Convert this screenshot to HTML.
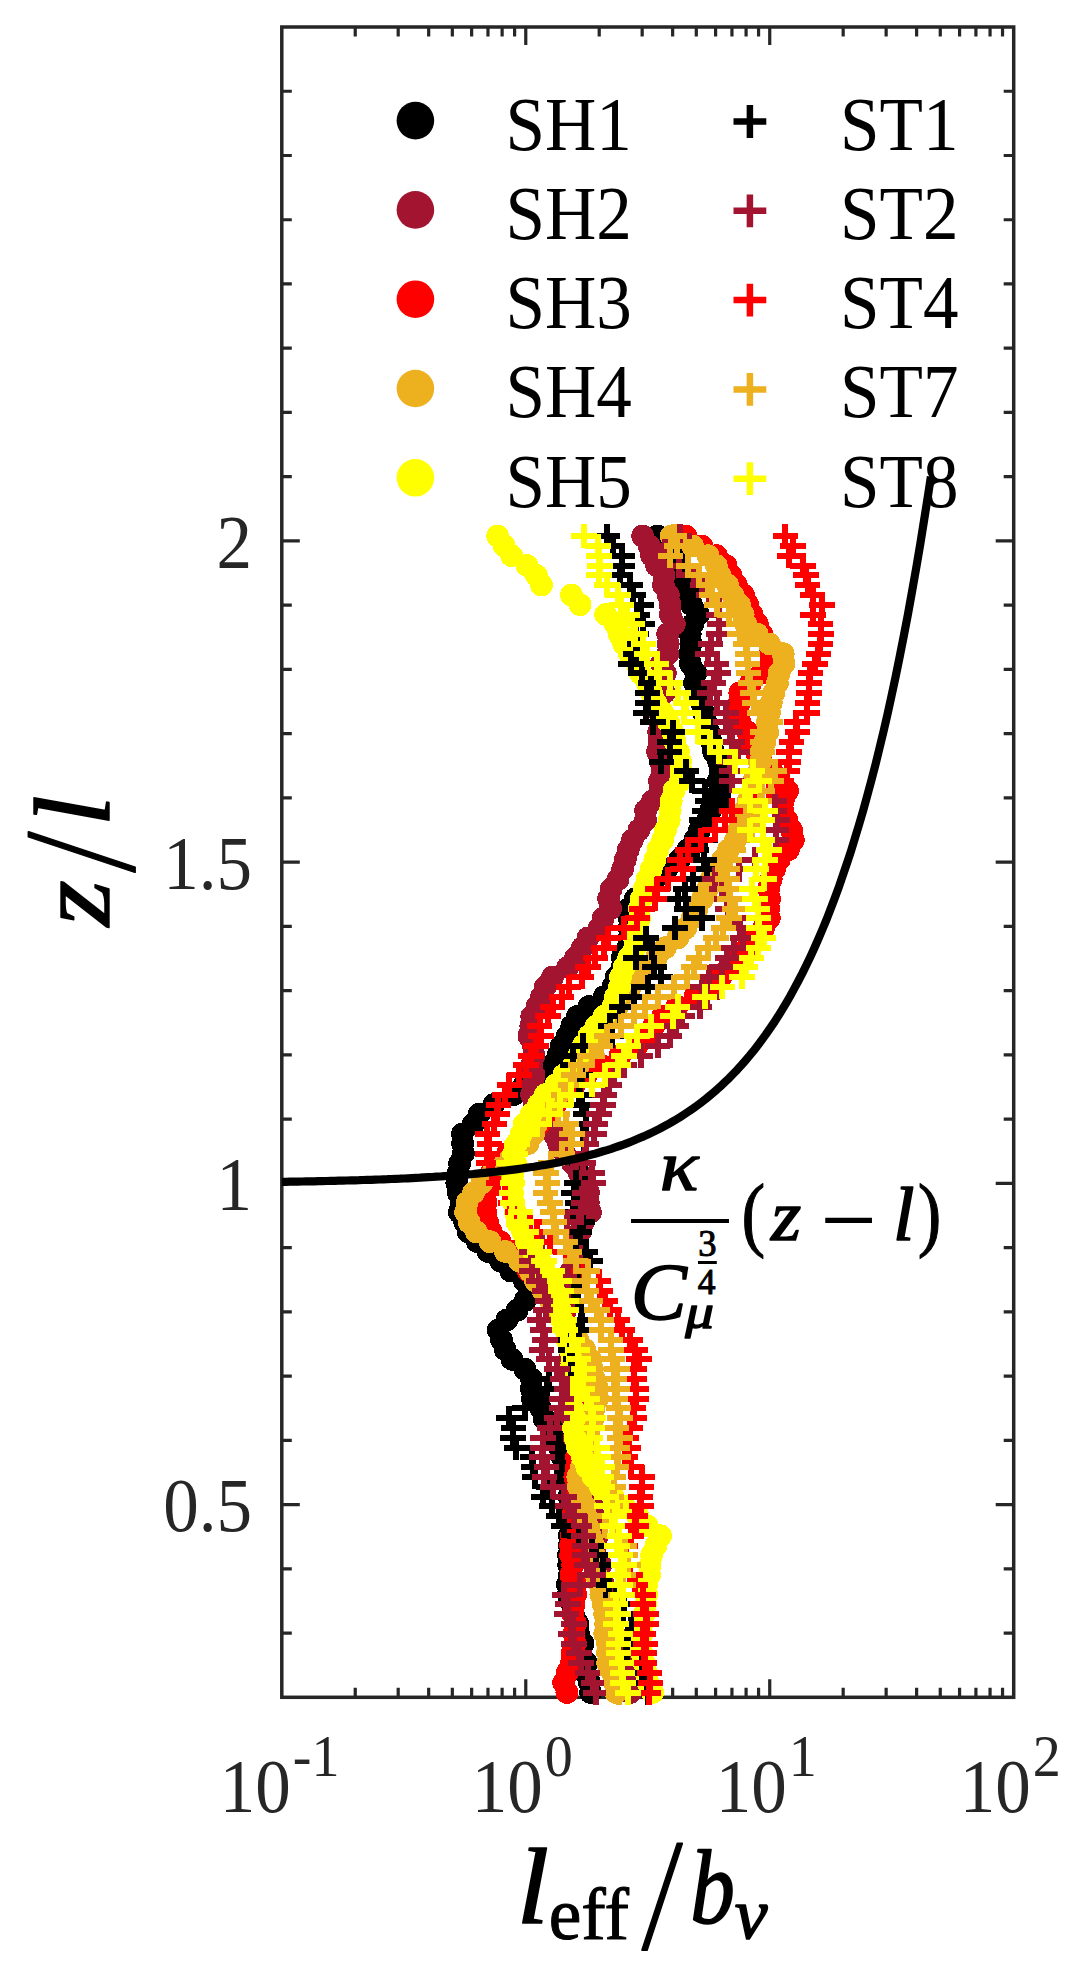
<!DOCTYPE html>
<html><head><meta charset="utf-8"><title>plot</title>
<style>html,body{margin:0;padding:0;background:#fff}svg{display:block}text{font-family:"Liberation Serif","DejaVu Serif",serif}</style></head><body>
<svg width="1085" height="1980" viewBox="0 0 1085 1980">
<rect width="1085" height="1980" fill="#fff"/>
<g stroke="#262626" fill="none" stroke-linecap="butt">
<rect x="281.8" y="27.0" width="731.90" height="1670.30" stroke-width="3.5"/>
<path d="M355.24 1697.3v-9.6M355.24 27.0v9.6M398.20 1697.3v-9.6M398.20 27.0v9.6M428.68 1697.3v-9.6M428.68 27.0v9.6M452.33 1697.3v-9.6M452.33 27.0v9.6M471.64 1697.3v-9.6M471.64 27.0v9.6M487.98 1697.3v-9.6M487.98 27.0v9.6M502.12 1697.3v-9.6M502.12 27.0v9.6M514.60 1697.3v-9.6M514.60 27.0v9.6M525.77 1697.3v-18M525.77 27.0v18M599.21 1697.3v-9.6M599.21 27.0v9.6M642.17 1697.3v-9.6M642.17 27.0v9.6M672.65 1697.3v-9.6M672.65 27.0v9.6M696.29 1697.3v-9.6M696.29 27.0v9.6M715.61 1697.3v-9.6M715.61 27.0v9.6M731.94 1697.3v-9.6M731.94 27.0v9.6M746.09 1697.3v-9.6M746.09 27.0v9.6M758.57 1697.3v-9.6M758.57 27.0v9.6M769.73 1697.3v-18M769.73 27.0v18M843.17 1697.3v-9.6M843.17 27.0v9.6M886.14 1697.3v-9.6M886.14 27.0v9.6M916.62 1697.3v-9.6M916.62 27.0v9.6M940.26 1697.3v-9.6M940.26 27.0v9.6M959.58 1697.3v-9.6M959.58 27.0v9.6M975.91 1697.3v-9.6M975.91 27.0v9.6M990.06 1697.3v-9.6M990.06 27.0v9.6M1002.54 1697.3v-9.6M1002.54 27.0v9.6" stroke-width="3.2"/>
<path d="M281.8 1633.06h10M1013.7 1633.06h-10M281.8 1568.82h10M1013.7 1568.82h-10M281.8 1504.57h18M1013.7 1504.57h-18M281.8 1440.33h10M1013.7 1440.33h-10M281.8 1376.09h10M1013.7 1376.09h-10M281.8 1311.85h10M1013.7 1311.85h-10M281.8 1247.60h10M1013.7 1247.60h-10M281.8 1183.36h18M1013.7 1183.36h-18M281.8 1119.12h10M1013.7 1119.12h-10M281.8 1054.88h10M1013.7 1054.88h-10M281.8 990.63h10M1013.7 990.63h-10M281.8 926.39h10M1013.7 926.39h-10M281.8 862.15h18M1013.7 862.15h-18M281.8 797.91h10M1013.7 797.91h-10M281.8 733.67h10M1013.7 733.67h-10M281.8 669.42h10M1013.7 669.42h-10M281.8 605.18h10M1013.7 605.18h-10M281.8 540.94h18M1013.7 540.94h-18M281.8 476.70h10M1013.7 476.70h-10M281.8 412.45h10M1013.7 412.45h-10M281.8 348.21h10M1013.7 348.21h-10M281.8 283.97h10M1013.7 283.97h-10M281.8 219.73h10M1013.7 219.73h-10M281.8 155.48h10M1013.7 155.48h-10M281.8 91.24h10M1013.7 91.24h-10" stroke-width="3.2"/>
</g>
<g fill="#262626" font-size="76px">
<text transform="translate(252.0 567.7) scale(0.935 1)" text-anchor="end">2</text>
<text transform="translate(252.0 888.9) scale(0.935 1)" text-anchor="end">1.5</text>
<text transform="translate(252.0 1210.2) scale(0.935 1)" text-anchor="end">1</text>
<text transform="translate(252.0 1531.4) scale(0.935 1)" text-anchor="end">0.5</text>
<text transform="translate(219.8 1811.8) scale(0.935 1)">10</text>
<text transform="translate(292.8 1776.0) scale(0.935 1)" font-size="60px">-1</text>
<text transform="translate(471.8 1811.8) scale(0.935 1)">10</text>
<text transform="translate(544.8 1776.0) scale(0.935 1)" font-size="60px">0</text>
<text transform="translate(715.7 1811.8) scale(0.935 1)">10</text>
<text transform="translate(788.7 1776.0) scale(0.935 1)" font-size="60px">1</text>
<text transform="translate(959.7 1811.8) scale(0.935 1)">10</text>
<text transform="translate(1032.7 1776.0) scale(0.935 1)" font-size="60px">2</text>
</g>
<g font-size="76px" fill="#000">
<circle cx="415.4" cy="120.6" r="18.8" fill="#000000"/>
<path d="M733.5 121.5h32.8M749.9 105.1v32.8" stroke="#000000" stroke-width="6.5" fill="none"/>
<text transform="translate(505.5 149.5) scale(0.935 1)">SH1</text>
<text transform="translate(840.0 149.5) scale(0.935 1)">ST1</text>
<circle cx="415.4" cy="209.9" r="18.8" fill="#A2142F"/>
<path d="M733.5 210.8h32.8M749.9 194.4v32.8" stroke="#A2142F" stroke-width="6.5" fill="none"/>
<text transform="translate(505.5 238.8) scale(0.935 1)">SH2</text>
<text transform="translate(840.0 238.8) scale(0.935 1)">ST2</text>
<circle cx="415.4" cy="299.2" r="18.8" fill="#FF0000"/>
<path d="M733.5 300.1h32.8M749.9 283.7v32.8" stroke="#FF0000" stroke-width="6.5" fill="none"/>
<text transform="translate(505.5 328.1) scale(0.935 1)">SH3</text>
<text transform="translate(840.0 328.1) scale(0.935 1)">ST4</text>
<circle cx="415.4" cy="388.5" r="18.8" fill="#EDB120"/>
<path d="M733.5 389.4h32.8M749.9 373.0v32.8" stroke="#EDB120" stroke-width="6.5" fill="none"/>
<text transform="translate(505.5 417.4) scale(0.935 1)">SH4</text>
<text transform="translate(840.0 417.4) scale(0.935 1)">ST7</text>
<circle cx="415.4" cy="477.8" r="18.8" fill="#FFFF00"/>
<path d="M733.5 478.7h32.8M749.9 462.3v32.8" stroke="#FFFF00" stroke-width="6.5" fill="none"/>
<text transform="translate(505.5 506.7) scale(0.935 1)">SH5</text>
<text transform="translate(840.0 506.7) scale(0.935 1)">ST8</text>
</g>
<g fill="#000000" shape-rendering="crispEdges"><circle cx="657.6" cy="536.1" r="11.4"/><circle cx="664.6" cy="545.9" r="11.4"/><circle cx="674.0" cy="555.7" r="11.4"/><circle cx="677.0" cy="565.5" r="11.4"/><circle cx="681.0" cy="575.3" r="11.4"/><circle cx="684.4" cy="585.1" r="11.4"/><circle cx="690.3" cy="594.9" r="11.4"/><circle cx="691.5" cy="604.7" r="11.4"/><circle cx="698.3" cy="614.5" r="11.4"/><circle cx="692.7" cy="624.3" r="11.4"/><circle cx="690.2" cy="634.1" r="11.4"/><circle cx="691.0" cy="643.9" r="11.4"/><circle cx="689.7" cy="653.7" r="11.4"/><circle cx="690.3" cy="663.5" r="11.4"/><circle cx="695.8" cy="673.3" r="11.4"/><circle cx="694.6" cy="683.1" r="11.4"/><circle cx="698.0" cy="692.9" r="11.4"/><circle cx="701.6" cy="702.7" r="11.4"/><circle cx="703.7" cy="712.5" r="11.4"/><circle cx="705.8" cy="722.3" r="11.4"/><circle cx="708.8" cy="732.1" r="11.4"/><circle cx="711.5" cy="741.9" r="11.4"/><circle cx="713.6" cy="751.7" r="11.4"/><circle cx="718.4" cy="761.5" r="11.4"/><circle cx="720.2" cy="771.3" r="11.4"/><circle cx="718.2" cy="781.1" r="11.4"/><circle cx="720.1" cy="790.9" r="11.4"/><circle cx="720.4" cy="800.7" r="11.4"/><circle cx="710.7" cy="810.5" r="11.4"/><circle cx="707.4" cy="820.3" r="11.4"/><circle cx="699.6" cy="830.1" r="11.4"/><circle cx="694.9" cy="839.9" r="11.4"/><circle cx="687.7" cy="849.7" r="11.4"/><circle cx="679.7" cy="859.5" r="11.4"/><circle cx="666.7" cy="869.3" r="11.4"/><circle cx="654.9" cy="879.1" r="11.4"/><circle cx="647.0" cy="888.9" r="11.4"/><circle cx="635.4" cy="898.7" r="11.4"/><circle cx="629.4" cy="908.5" r="11.4"/><circle cx="629.4" cy="918.3" r="11.4"/><circle cx="629.3" cy="928.1" r="11.4"/><circle cx="629.3" cy="937.9" r="11.4"/><circle cx="628.0" cy="947.7" r="11.4"/><circle cx="622.2" cy="957.5" r="11.4"/><circle cx="622.2" cy="967.3" r="11.4"/><circle cx="616.2" cy="977.1" r="11.4"/><circle cx="612.8" cy="986.9" r="11.4"/><circle cx="604.2" cy="996.7" r="11.4"/><circle cx="589.1" cy="1006.5" r="11.4"/><circle cx="577.4" cy="1016.3" r="11.4"/><circle cx="571.8" cy="1026.1" r="11.4"/><circle cx="567.3" cy="1035.9" r="11.4"/><circle cx="561.3" cy="1045.7" r="11.4"/><circle cx="558.0" cy="1055.5" r="11.4"/><circle cx="551.6" cy="1065.3" r="11.4"/><circle cx="536.7" cy="1075.1" r="11.4"/><circle cx="524.1" cy="1084.9" r="11.4"/><circle cx="513.7" cy="1094.7" r="11.4"/><circle cx="493.8" cy="1104.5" r="11.4"/><circle cx="478.9" cy="1114.3" r="11.4"/><circle cx="473.1" cy="1124.1" r="11.4"/><circle cx="462.4" cy="1133.9" r="11.4"/><circle cx="462.7" cy="1143.7" r="11.4"/><circle cx="463.4" cy="1153.5" r="11.4"/><circle cx="459.7" cy="1163.3" r="11.4"/><circle cx="458.0" cy="1173.1" r="11.4"/><circle cx="456.8" cy="1182.9" r="11.4"/><circle cx="458.3" cy="1192.7" r="11.4"/><circle cx="461.3" cy="1202.5" r="11.4"/><circle cx="459.3" cy="1212.3" r="11.4"/><circle cx="464.7" cy="1222.1" r="11.4"/><circle cx="468.2" cy="1231.9" r="11.4"/><circle cx="477.3" cy="1241.7" r="11.4"/><circle cx="488.0" cy="1251.5" r="11.4"/><circle cx="500.7" cy="1261.3" r="11.4"/><circle cx="510.7" cy="1271.1" r="11.4"/><circle cx="524.4" cy="1280.9" r="11.4"/><circle cx="529.5" cy="1290.7" r="11.4"/><circle cx="525.2" cy="1300.5" r="11.4"/><circle cx="517.0" cy="1310.3" r="11.4"/><circle cx="506.8" cy="1320.1" r="11.4"/><circle cx="498.3" cy="1329.9" r="11.4"/><circle cx="501.5" cy="1339.7" r="11.4"/><circle cx="505.2" cy="1349.5" r="11.4"/><circle cx="512.1" cy="1359.3" r="11.4"/><circle cx="524.8" cy="1369.1" r="11.4"/><circle cx="531.6" cy="1378.9" r="11.4"/><circle cx="531.3" cy="1388.7" r="11.4"/><circle cx="534.8" cy="1398.5" r="11.4"/><circle cx="540.7" cy="1408.3" r="11.4"/><circle cx="543.9" cy="1418.1" r="11.4"/><circle cx="552.7" cy="1427.9" r="11.4"/><circle cx="553.8" cy="1437.7" r="11.4"/><circle cx="559.4" cy="1447.5" r="11.4"/><circle cx="562.4" cy="1457.3" r="11.4"/><circle cx="564.4" cy="1467.1" r="11.4"/><circle cx="564.7" cy="1476.9" r="11.4"/><circle cx="570.7" cy="1486.7" r="11.4"/><circle cx="569.0" cy="1496.5" r="11.4"/><circle cx="572.7" cy="1506.3" r="11.4"/><circle cx="573.3" cy="1516.1" r="11.4"/><circle cx="572.4" cy="1525.9" r="11.4"/><circle cx="569.4" cy="1535.7" r="11.4"/><circle cx="569.4" cy="1545.5" r="11.4"/><circle cx="568.5" cy="1555.3" r="11.4"/><circle cx="568.7" cy="1565.1" r="11.4"/><circle cx="569.4" cy="1574.9" r="11.4"/><circle cx="567.4" cy="1584.7" r="11.4"/><circle cx="568.2" cy="1594.5" r="11.4"/><circle cx="572.3" cy="1604.3" r="11.4"/><circle cx="573.3" cy="1614.1" r="11.4"/><circle cx="577.9" cy="1623.9" r="11.4"/><circle cx="578.4" cy="1633.7" r="11.4"/><circle cx="583.0" cy="1643.5" r="11.4"/><circle cx="580.1" cy="1653.3" r="11.4"/><circle cx="586.6" cy="1663.1" r="11.4"/><circle cx="585.3" cy="1672.9" r="11.4"/><circle cx="589.4" cy="1682.7" r="11.4"/><circle cx="590.5" cy="1692.5" r="11.4"/></g>
<g fill="#A2142F" shape-rendering="crispEdges"><circle cx="642.7" cy="536.1" r="11.4"/><circle cx="649.1" cy="545.9" r="11.4"/><circle cx="651.7" cy="555.7" r="11.4"/><circle cx="656.6" cy="565.5" r="11.4"/><circle cx="663.9" cy="575.3" r="11.4"/><circle cx="663.4" cy="585.1" r="11.4"/><circle cx="668.3" cy="594.9" r="11.4"/><circle cx="670.0" cy="604.7" r="11.4"/><circle cx="670.3" cy="614.5" r="11.4"/><circle cx="674.3" cy="624.3" r="11.4"/><circle cx="667.7" cy="634.1" r="11.4"/><circle cx="668.2" cy="643.9" r="11.4"/><circle cx="667.8" cy="653.7" r="11.4"/><circle cx="661.4" cy="663.5" r="11.4"/><circle cx="665.3" cy="673.3" r="11.4"/><circle cx="660.9" cy="683.1" r="11.4"/><circle cx="664.1" cy="692.9" r="11.4"/><circle cx="657.9" cy="702.7" r="11.4"/><circle cx="659.3" cy="712.5" r="11.4"/><circle cx="660.8" cy="722.3" r="11.4"/><circle cx="658.7" cy="732.1" r="11.4"/><circle cx="659.0" cy="741.9" r="11.4"/><circle cx="657.6" cy="751.7" r="11.4"/><circle cx="660.6" cy="761.5" r="11.4"/><circle cx="662.4" cy="771.3" r="11.4"/><circle cx="659.5" cy="781.1" r="11.4"/><circle cx="660.1" cy="790.9" r="11.4"/><circle cx="652.6" cy="800.7" r="11.4"/><circle cx="645.6" cy="810.5" r="11.4"/><circle cx="645.5" cy="820.3" r="11.4"/><circle cx="638.9" cy="830.1" r="11.4"/><circle cx="632.4" cy="839.9" r="11.4"/><circle cx="628.3" cy="849.7" r="11.4"/><circle cx="625.3" cy="859.5" r="11.4"/><circle cx="622.6" cy="869.3" r="11.4"/><circle cx="618.1" cy="879.1" r="11.4"/><circle cx="611.2" cy="888.9" r="11.4"/><circle cx="608.6" cy="898.7" r="11.4"/><circle cx="610.7" cy="908.5" r="11.4"/><circle cx="603.1" cy="918.3" r="11.4"/><circle cx="599.2" cy="928.1" r="11.4"/><circle cx="588.0" cy="937.9" r="11.4"/><circle cx="582.3" cy="947.7" r="11.4"/><circle cx="575.7" cy="957.5" r="11.4"/><circle cx="567.7" cy="967.3" r="11.4"/><circle cx="552.6" cy="977.1" r="11.4"/><circle cx="545.2" cy="986.9" r="11.4"/><circle cx="541.6" cy="996.7" r="11.4"/><circle cx="537.0" cy="1006.5" r="11.4"/><circle cx="531.8" cy="1016.3" r="11.4"/><circle cx="530.8" cy="1026.1" r="11.4"/><circle cx="528.9" cy="1035.9" r="11.4"/><circle cx="533.5" cy="1045.7" r="11.4"/><circle cx="534.1" cy="1055.5" r="11.4"/><circle cx="531.8" cy="1065.3" r="11.4"/><circle cx="534.1" cy="1075.1" r="11.4"/><circle cx="533.0" cy="1084.9" r="11.4"/><circle cx="531.6" cy="1094.7" r="11.4"/><circle cx="534.0" cy="1104.5" r="11.4"/><circle cx="536.3" cy="1114.3" r="11.4"/><circle cx="543.2" cy="1124.1" r="11.4"/><circle cx="553.8" cy="1133.9" r="11.4"/><circle cx="558.6" cy="1143.7" r="11.4"/><circle cx="564.8" cy="1153.5" r="11.4"/><circle cx="572.5" cy="1163.3" r="11.4"/><circle cx="579.1" cy="1173.1" r="11.4"/><circle cx="585.2" cy="1182.9" r="11.4"/><circle cx="588.4" cy="1192.7" r="11.4"/><circle cx="588.3" cy="1202.5" r="11.4"/><circle cx="590.4" cy="1212.3" r="11.4"/><circle cx="583.5" cy="1222.1" r="11.4"/><circle cx="580.2" cy="1231.9" r="11.4"/><circle cx="577.5" cy="1241.7" r="11.4"/><circle cx="573.8" cy="1251.5" r="11.4"/><circle cx="575.3" cy="1261.3" r="11.4"/><circle cx="571.0" cy="1271.1" r="11.4"/><circle cx="567.9" cy="1280.9" r="11.4"/><circle cx="562.3" cy="1290.7" r="11.4"/><circle cx="565.7" cy="1300.5" r="11.4"/><circle cx="565.4" cy="1310.3" r="11.4"/><circle cx="563.7" cy="1320.1" r="11.4"/><circle cx="565.6" cy="1329.9" r="11.4"/><circle cx="568.5" cy="1339.7" r="11.4"/><circle cx="569.3" cy="1349.5" r="11.4"/><circle cx="569.7" cy="1359.3" r="11.4"/><circle cx="570.8" cy="1369.1" r="11.4"/><circle cx="572.7" cy="1378.9" r="11.4"/><circle cx="573.0" cy="1388.7" r="11.4"/><circle cx="574.0" cy="1398.5" r="11.4"/><circle cx="574.1" cy="1408.3" r="11.4"/><circle cx="571.6" cy="1418.1" r="11.4"/><circle cx="575.3" cy="1427.9" r="11.4"/><circle cx="574.2" cy="1437.7" r="11.4"/><circle cx="578.9" cy="1447.5" r="11.4"/><circle cx="581.2" cy="1457.3" r="11.4"/><circle cx="587.8" cy="1467.1" r="11.4"/><circle cx="587.0" cy="1476.9" r="11.4"/><circle cx="589.1" cy="1486.7" r="11.4"/><circle cx="590.0" cy="1496.5" r="11.4"/><circle cx="592.6" cy="1506.3" r="11.4"/><circle cx="593.9" cy="1516.1" r="11.4"/><circle cx="591.8" cy="1525.9" r="11.4"/><circle cx="597.6" cy="1535.7" r="11.4"/><circle cx="595.7" cy="1545.5" r="11.4"/><circle cx="595.4" cy="1555.3" r="11.4"/><circle cx="600.7" cy="1565.1" r="11.4"/><circle cx="597.8" cy="1574.9" r="11.4"/><circle cx="603.5" cy="1584.7" r="11.4"/><circle cx="603.3" cy="1594.5" r="11.4"/><circle cx="608.7" cy="1604.3" r="11.4"/><circle cx="606.0" cy="1614.1" r="11.4"/><circle cx="613.4" cy="1623.9" r="11.4"/><circle cx="614.2" cy="1633.7" r="11.4"/><circle cx="617.4" cy="1643.5" r="11.4"/><circle cx="618.9" cy="1653.3" r="11.4"/><circle cx="621.7" cy="1663.1" r="11.4"/><circle cx="626.0" cy="1672.9" r="11.4"/><circle cx="625.5" cy="1682.7" r="11.4"/><circle cx="630.4" cy="1692.5" r="11.4"/></g>
<g fill="#FF0000" shape-rendering="crispEdges"><circle cx="686.0" cy="536.1" r="11.4"/><circle cx="701.8" cy="545.9" r="11.4"/><circle cx="716.5" cy="555.7" r="11.4"/><circle cx="726.0" cy="565.5" r="11.4"/><circle cx="730.8" cy="575.3" r="11.4"/><circle cx="736.4" cy="585.1" r="11.4"/><circle cx="743.5" cy="594.9" r="11.4"/><circle cx="747.8" cy="604.7" r="11.4"/><circle cx="752.2" cy="614.5" r="11.4"/><circle cx="757.4" cy="624.3" r="11.4"/><circle cx="761.8" cy="634.1" r="11.4"/><circle cx="769.5" cy="643.9" r="11.4"/><circle cx="770.3" cy="653.7" r="11.4"/><circle cx="770.6" cy="663.5" r="11.4"/><circle cx="761.6" cy="673.3" r="11.4"/><circle cx="750.6" cy="683.1" r="11.4"/><circle cx="739.8" cy="692.9" r="11.4"/><circle cx="739.4" cy="702.7" r="11.4"/><circle cx="737.6" cy="712.5" r="11.4"/><circle cx="740.0" cy="722.3" r="11.4"/><circle cx="747.6" cy="732.1" r="11.4"/><circle cx="750.5" cy="741.9" r="11.4"/><circle cx="756.3" cy="751.7" r="11.4"/><circle cx="761.3" cy="761.5" r="11.4"/><circle cx="772.1" cy="771.3" r="11.4"/><circle cx="779.4" cy="781.1" r="11.4"/><circle cx="787.6" cy="790.9" r="11.4"/><circle cx="783.2" cy="800.7" r="11.4"/><circle cx="782.6" cy="810.5" r="11.4"/><circle cx="786.9" cy="820.3" r="11.4"/><circle cx="791.5" cy="830.1" r="11.4"/><circle cx="793.3" cy="839.9" r="11.4"/><circle cx="788.4" cy="849.7" r="11.4"/><circle cx="779.3" cy="859.5" r="11.4"/><circle cx="774.6" cy="869.3" r="11.4"/><circle cx="771.2" cy="879.1" r="11.4"/><circle cx="768.5" cy="888.9" r="11.4"/><circle cx="769.6" cy="898.7" r="11.4"/><circle cx="768.7" cy="908.5" r="11.4"/><circle cx="769.3" cy="918.3" r="11.4"/><circle cx="763.6" cy="928.1" r="11.4"/><circle cx="753.4" cy="937.9" r="11.4"/><circle cx="747.4" cy="947.7" r="11.4"/><circle cx="740.2" cy="957.5" r="11.4"/><circle cx="729.0" cy="967.3" r="11.4"/><circle cx="720.7" cy="977.1" r="11.4"/><circle cx="711.1" cy="986.9" r="11.4"/><circle cx="695.0" cy="996.7" r="11.4"/><circle cx="677.1" cy="1006.5" r="11.4"/><circle cx="662.7" cy="1016.3" r="11.4"/><circle cx="653.7" cy="1026.1" r="11.4"/><circle cx="645.6" cy="1035.9" r="11.4"/><circle cx="636.9" cy="1045.7" r="11.4"/><circle cx="620.0" cy="1055.5" r="11.4"/><circle cx="601.6" cy="1065.3" r="11.4"/><circle cx="586.1" cy="1075.1" r="11.4"/><circle cx="574.6" cy="1084.9" r="11.4"/><circle cx="563.4" cy="1094.7" r="11.4"/><circle cx="555.7" cy="1104.5" r="11.4"/><circle cx="545.5" cy="1114.3" r="11.4"/><circle cx="539.1" cy="1124.1" r="11.4"/><circle cx="530.2" cy="1133.9" r="11.4"/><circle cx="519.8" cy="1143.7" r="11.4"/><circle cx="507.6" cy="1153.5" r="11.4"/><circle cx="495.9" cy="1163.3" r="11.4"/><circle cx="491.0" cy="1173.1" r="11.4"/><circle cx="487.2" cy="1182.9" r="11.4"/><circle cx="483.0" cy="1192.7" r="11.4"/><circle cx="486.0" cy="1202.5" r="11.4"/><circle cx="485.6" cy="1212.3" r="11.4"/><circle cx="487.6" cy="1222.1" r="11.4"/><circle cx="491.2" cy="1231.9" r="11.4"/><circle cx="500.3" cy="1241.7" r="11.4"/><circle cx="512.0" cy="1251.5" r="11.4"/><circle cx="521.5" cy="1261.3" r="11.4"/><circle cx="528.3" cy="1271.1" r="11.4"/><circle cx="538.9" cy="1280.9" r="11.4"/><circle cx="545.1" cy="1290.7" r="11.4"/><circle cx="550.5" cy="1300.5" r="11.4"/><circle cx="558.5" cy="1310.3" r="11.4"/><circle cx="563.4" cy="1320.1" r="11.4"/><circle cx="572.7" cy="1329.9" r="11.4"/><circle cx="577.1" cy="1339.7" r="11.4"/><circle cx="581.0" cy="1349.5" r="11.4"/><circle cx="586.1" cy="1359.3" r="11.4"/><circle cx="587.5" cy="1369.1" r="11.4"/><circle cx="590.0" cy="1378.9" r="11.4"/><circle cx="589.6" cy="1388.7" r="11.4"/><circle cx="589.0" cy="1398.5" r="11.4"/><circle cx="587.8" cy="1408.3" r="11.4"/><circle cx="586.4" cy="1418.1" r="11.4"/><circle cx="586.9" cy="1427.9" r="11.4"/><circle cx="580.0" cy="1437.7" r="11.4"/><circle cx="579.8" cy="1447.5" r="11.4"/><circle cx="576.5" cy="1457.3" r="11.4"/><circle cx="576.5" cy="1467.1" r="11.4"/><circle cx="574.8" cy="1476.9" r="11.4"/><circle cx="576.1" cy="1486.7" r="11.4"/><circle cx="577.0" cy="1496.5" r="11.4"/><circle cx="575.4" cy="1506.3" r="11.4"/><circle cx="572.3" cy="1516.1" r="11.4"/><circle cx="573.6" cy="1525.9" r="11.4"/><circle cx="571.4" cy="1535.7" r="11.4"/><circle cx="570.7" cy="1545.5" r="11.4"/><circle cx="570.7" cy="1555.3" r="11.4"/><circle cx="572.7" cy="1565.1" r="11.4"/><circle cx="570.9" cy="1574.9" r="11.4"/><circle cx="575.4" cy="1584.7" r="11.4"/><circle cx="575.8" cy="1594.5" r="11.4"/><circle cx="574.1" cy="1604.3" r="11.4"/><circle cx="573.0" cy="1614.1" r="11.4"/><circle cx="575.6" cy="1623.9" r="11.4"/><circle cx="573.9" cy="1633.7" r="11.4"/><circle cx="574.9" cy="1643.5" r="11.4"/><circle cx="572.0" cy="1653.3" r="11.4"/><circle cx="571.5" cy="1663.1" r="11.4"/><circle cx="567.1" cy="1672.9" r="11.4"/><circle cx="563.7" cy="1682.7" r="11.4"/><circle cx="566.9" cy="1692.5" r="11.4"/></g>
<g fill="#EDB120" shape-rendering="crispEdges"><circle cx="671.2" cy="536.1" r="11.4"/><circle cx="692.6" cy="545.9" r="11.4"/><circle cx="708.2" cy="555.7" r="11.4"/><circle cx="716.3" cy="565.5" r="11.4"/><circle cx="720.0" cy="575.3" r="11.4"/><circle cx="727.7" cy="585.1" r="11.4"/><circle cx="732.7" cy="594.9" r="11.4"/><circle cx="739.6" cy="604.7" r="11.4"/><circle cx="743.2" cy="614.5" r="11.4"/><circle cx="746.0" cy="624.3" r="11.4"/><circle cx="757.1" cy="634.1" r="11.4"/><circle cx="769.4" cy="643.9" r="11.4"/><circle cx="783.2" cy="653.7" r="11.4"/><circle cx="784.0" cy="663.5" r="11.4"/><circle cx="779.2" cy="673.3" r="11.4"/><circle cx="777.4" cy="683.1" r="11.4"/><circle cx="773.9" cy="692.9" r="11.4"/><circle cx="771.3" cy="702.7" r="11.4"/><circle cx="769.5" cy="712.5" r="11.4"/><circle cx="767.3" cy="722.3" r="11.4"/><circle cx="767.7" cy="732.1" r="11.4"/><circle cx="764.9" cy="741.9" r="11.4"/><circle cx="761.3" cy="751.7" r="11.4"/><circle cx="760.7" cy="761.5" r="11.4"/><circle cx="758.9" cy="771.3" r="11.4"/><circle cx="753.7" cy="781.1" r="11.4"/><circle cx="752.9" cy="790.9" r="11.4"/><circle cx="748.2" cy="800.7" r="11.4"/><circle cx="745.2" cy="810.5" r="11.4"/><circle cx="741.8" cy="820.3" r="11.4"/><circle cx="738.6" cy="830.1" r="11.4"/><circle cx="735.6" cy="839.9" r="11.4"/><circle cx="728.6" cy="849.7" r="11.4"/><circle cx="722.7" cy="859.5" r="11.4"/><circle cx="718.4" cy="869.3" r="11.4"/><circle cx="711.0" cy="879.1" r="11.4"/><circle cx="707.6" cy="888.9" r="11.4"/><circle cx="702.6" cy="898.7" r="11.4"/><circle cx="696.9" cy="908.5" r="11.4"/><circle cx="691.9" cy="918.3" r="11.4"/><circle cx="685.9" cy="928.1" r="11.4"/><circle cx="677.9" cy="937.9" r="11.4"/><circle cx="665.4" cy="947.7" r="11.4"/><circle cx="656.5" cy="957.5" r="11.4"/><circle cx="646.4" cy="967.3" r="11.4"/><circle cx="640.0" cy="977.1" r="11.4"/><circle cx="630.5" cy="986.9" r="11.4"/><circle cx="621.4" cy="996.7" r="11.4"/><circle cx="617.3" cy="1006.5" r="11.4"/><circle cx="607.2" cy="1016.3" r="11.4"/><circle cx="601.7" cy="1026.1" r="11.4"/><circle cx="596.7" cy="1035.9" r="11.4"/><circle cx="588.9" cy="1045.7" r="11.4"/><circle cx="584.2" cy="1055.5" r="11.4"/><circle cx="578.4" cy="1065.3" r="11.4"/><circle cx="570.1" cy="1075.1" r="11.4"/><circle cx="563.4" cy="1084.9" r="11.4"/><circle cx="558.0" cy="1094.7" r="11.4"/><circle cx="549.0" cy="1104.5" r="11.4"/><circle cx="541.3" cy="1114.3" r="11.4"/><circle cx="536.6" cy="1124.1" r="11.4"/><circle cx="533.7" cy="1133.9" r="11.4"/><circle cx="527.8" cy="1143.7" r="11.4"/><circle cx="514.8" cy="1153.5" r="11.4"/><circle cx="504.9" cy="1163.3" r="11.4"/><circle cx="492.7" cy="1173.1" r="11.4"/><circle cx="482.0" cy="1182.9" r="11.4"/><circle cx="473.6" cy="1192.7" r="11.4"/><circle cx="467.2" cy="1202.5" r="11.4"/><circle cx="465.7" cy="1212.3" r="11.4"/><circle cx="469.1" cy="1222.1" r="11.4"/><circle cx="476.4" cy="1231.9" r="11.4"/><circle cx="489.9" cy="1241.7" r="11.4"/><circle cx="505.4" cy="1251.5" r="11.4"/><circle cx="519.6" cy="1261.3" r="11.4"/><circle cx="530.1" cy="1271.1" r="11.4"/><circle cx="535.6" cy="1280.9" r="11.4"/><circle cx="543.0" cy="1290.7" r="11.4"/><circle cx="550.6" cy="1300.5" r="11.4"/><circle cx="556.8" cy="1310.3" r="11.4"/><circle cx="562.0" cy="1320.1" r="11.4"/><circle cx="571.4" cy="1329.9" r="11.4"/><circle cx="577.8" cy="1339.7" r="11.4"/><circle cx="584.6" cy="1349.5" r="11.4"/><circle cx="590.2" cy="1359.3" r="11.4"/><circle cx="592.3" cy="1369.1" r="11.4"/><circle cx="594.1" cy="1378.9" r="11.4"/><circle cx="597.5" cy="1388.7" r="11.4"/><circle cx="597.7" cy="1398.5" r="11.4"/><circle cx="594.0" cy="1408.3" r="11.4"/><circle cx="593.3" cy="1418.1" r="11.4"/><circle cx="589.1" cy="1427.9" r="11.4"/><circle cx="589.6" cy="1437.7" r="11.4"/><circle cx="583.6" cy="1447.5" r="11.4"/><circle cx="583.2" cy="1457.3" r="11.4"/><circle cx="581.4" cy="1467.1" r="11.4"/><circle cx="577.8" cy="1476.9" r="11.4"/><circle cx="578.4" cy="1486.7" r="11.4"/><circle cx="580.5" cy="1496.5" r="11.4"/><circle cx="585.0" cy="1506.3" r="11.4"/><circle cx="585.9" cy="1516.1" r="11.4"/><circle cx="587.2" cy="1525.9" r="11.4"/><circle cx="590.3" cy="1535.7" r="11.4"/><circle cx="593.6" cy="1545.5" r="11.4"/><circle cx="594.6" cy="1555.3" r="11.4"/><circle cx="595.1" cy="1565.1" r="11.4"/><circle cx="596.1" cy="1574.9" r="11.4"/><circle cx="599.9" cy="1584.7" r="11.4"/><circle cx="600.9" cy="1594.5" r="11.4"/><circle cx="603.3" cy="1604.3" r="11.4"/><circle cx="604.7" cy="1614.1" r="11.4"/><circle cx="605.7" cy="1623.9" r="11.4"/><circle cx="604.8" cy="1633.7" r="11.4"/><circle cx="607.6" cy="1643.5" r="11.4"/><circle cx="608.2" cy="1653.3" r="11.4"/><circle cx="607.7" cy="1663.1" r="11.4"/><circle cx="612.8" cy="1672.9" r="11.4"/><circle cx="614.4" cy="1682.7" r="11.4"/><circle cx="616.0" cy="1692.5" r="11.4"/></g>
<g fill="#FFFF00" shape-rendering="crispEdges"><circle cx="497.7" cy="536.1" r="11.4"/><circle cx="504.1" cy="545.9" r="11.4"/><circle cx="511.6" cy="555.7" r="11.4"/><circle cx="527.0" cy="565.5" r="11.4"/><circle cx="536.3" cy="575.3" r="11.4"/><circle cx="541.5" cy="585.1" r="11.4"/><circle cx="571.4" cy="594.9" r="11.4"/><circle cx="580.1" cy="604.7" r="11.4"/><circle cx="605.7" cy="614.5" r="11.4"/><circle cx="615.4" cy="624.3" r="11.4"/><circle cx="619.1" cy="634.1" r="11.4"/><circle cx="623.7" cy="643.9" r="11.4"/><circle cx="629.4" cy="653.7" r="11.4"/><circle cx="637.2" cy="663.5" r="11.4"/><circle cx="640.4" cy="673.3" r="11.4"/><circle cx="647.4" cy="683.1" r="11.4"/><circle cx="651.6" cy="692.9" r="11.4"/><circle cx="655.7" cy="702.7" r="11.4"/><circle cx="662.8" cy="712.5" r="11.4"/><circle cx="668.5" cy="722.3" r="11.4"/><circle cx="672.7" cy="732.1" r="11.4"/><circle cx="675.1" cy="741.9" r="11.4"/><circle cx="678.4" cy="751.7" r="11.4"/><circle cx="680.5" cy="761.5" r="11.4"/><circle cx="681.2" cy="771.3" r="11.4"/><circle cx="680.4" cy="781.1" r="11.4"/><circle cx="673.9" cy="790.9" r="11.4"/><circle cx="671.2" cy="800.7" r="11.4"/><circle cx="670.2" cy="810.5" r="11.4"/><circle cx="669.2" cy="820.3" r="11.4"/><circle cx="665.5" cy="830.1" r="11.4"/><circle cx="662.7" cy="839.9" r="11.4"/><circle cx="658.1" cy="849.7" r="11.4"/><circle cx="654.9" cy="859.5" r="11.4"/><circle cx="651.2" cy="869.3" r="11.4"/><circle cx="647.3" cy="879.1" r="11.4"/><circle cx="644.1" cy="888.9" r="11.4"/><circle cx="641.4" cy="898.7" r="11.4"/><circle cx="639.3" cy="908.5" r="11.4"/><circle cx="639.4" cy="918.3" r="11.4"/><circle cx="638.0" cy="928.1" r="11.4"/><circle cx="634.5" cy="937.9" r="11.4"/><circle cx="634.8" cy="947.7" r="11.4"/><circle cx="628.8" cy="957.5" r="11.4"/><circle cx="624.1" cy="967.3" r="11.4"/><circle cx="620.6" cy="977.1" r="11.4"/><circle cx="619.6" cy="986.9" r="11.4"/><circle cx="615.6" cy="996.7" r="11.4"/><circle cx="612.8" cy="1006.5" r="11.4"/><circle cx="603.9" cy="1016.3" r="11.4"/><circle cx="596.1" cy="1026.1" r="11.4"/><circle cx="589.0" cy="1035.9" r="11.4"/><circle cx="583.2" cy="1045.7" r="11.4"/><circle cx="578.8" cy="1055.5" r="11.4"/><circle cx="573.6" cy="1065.3" r="11.4"/><circle cx="563.8" cy="1075.1" r="11.4"/><circle cx="555.7" cy="1084.9" r="11.4"/><circle cx="545.3" cy="1094.7" r="11.4"/><circle cx="538.6" cy="1104.5" r="11.4"/><circle cx="531.0" cy="1114.3" r="11.4"/><circle cx="524.3" cy="1124.1" r="11.4"/><circle cx="521.3" cy="1133.9" r="11.4"/><circle cx="516.3" cy="1143.7" r="11.4"/><circle cx="514.0" cy="1153.5" r="11.4"/><circle cx="515.6" cy="1163.3" r="11.4"/><circle cx="513.0" cy="1173.1" r="11.4"/><circle cx="512.9" cy="1182.9" r="11.4"/><circle cx="512.5" cy="1192.7" r="11.4"/><circle cx="513.7" cy="1202.5" r="11.4"/><circle cx="515.6" cy="1212.3" r="11.4"/><circle cx="517.0" cy="1222.1" r="11.4"/><circle cx="522.7" cy="1231.9" r="11.4"/><circle cx="526.5" cy="1241.7" r="11.4"/><circle cx="533.3" cy="1251.5" r="11.4"/><circle cx="540.4" cy="1261.3" r="11.4"/><circle cx="544.3" cy="1271.1" r="11.4"/><circle cx="548.8" cy="1280.9" r="11.4"/><circle cx="553.7" cy="1290.7" r="11.4"/><circle cx="557.0" cy="1300.5" r="11.4"/><circle cx="560.3" cy="1310.3" r="11.4"/><circle cx="562.0" cy="1320.1" r="11.4"/><circle cx="565.5" cy="1329.9" r="11.4"/><circle cx="567.0" cy="1339.7" r="11.4"/><circle cx="569.8" cy="1349.5" r="11.4"/><circle cx="571.3" cy="1359.3" r="11.4"/><circle cx="570.6" cy="1369.1" r="11.4"/><circle cx="572.1" cy="1378.9" r="11.4"/><circle cx="572.6" cy="1388.7" r="11.4"/><circle cx="571.5" cy="1398.5" r="11.4"/><circle cx="572.2" cy="1408.3" r="11.4"/><circle cx="574.8" cy="1418.1" r="11.4"/><circle cx="573.6" cy="1427.9" r="11.4"/><circle cx="574.9" cy="1437.7" r="11.4"/><circle cx="577.7" cy="1447.5" r="11.4"/><circle cx="582.5" cy="1457.3" r="11.4"/><circle cx="586.8" cy="1467.1" r="11.4"/><circle cx="593.3" cy="1476.9" r="11.4"/><circle cx="600.4" cy="1486.7" r="11.4"/><circle cx="613.0" cy="1496.5" r="11.4"/><circle cx="624.2" cy="1506.3" r="11.4"/><circle cx="638.0" cy="1516.1" r="11.4"/><circle cx="647.3" cy="1525.9" r="11.4"/><circle cx="660.5" cy="1535.7" r="11.4"/><circle cx="655.9" cy="1545.5" r="11.4"/><circle cx="651.6" cy="1555.3" r="11.4"/><circle cx="650.1" cy="1565.1" r="11.4"/><circle cx="649.5" cy="1574.9" r="11.4"/><circle cx="646.6" cy="1584.7" r="11.4"/><circle cx="646.6" cy="1594.5" r="11.4"/><circle cx="645.5" cy="1604.3" r="11.4"/><circle cx="644.0" cy="1614.1" r="11.4"/><circle cx="642.0" cy="1623.9" r="11.4"/><circle cx="641.8" cy="1633.7" r="11.4"/><circle cx="639.2" cy="1643.5" r="11.4"/><circle cx="642.0" cy="1653.3" r="11.4"/><circle cx="644.2" cy="1663.1" r="11.4"/><circle cx="646.2" cy="1672.9" r="11.4"/><circle cx="648.2" cy="1682.7" r="11.4"/><circle cx="652.6" cy="1692.5" r="11.4"/></g>
<path d="M594.7 536.1h25.4M607.4 523.8v24.6M599.9 545.9h25.4M612.6 533.6v24.6M609.5 555.7h25.4M622.2 543.4v24.6M609.7 565.5h25.4M622.4 553.2v24.6M607.1 575.3h25.4M619.8 563.0v24.6M617.2 585.1h25.4M629.9 572.8v24.6M620.5 594.9h25.4M633.2 582.6v24.6M628.7 604.7h25.4M641.4 592.4v24.6M624.7 614.5h25.4M637.4 602.2v24.6M629.9 624.3h25.4M642.6 612.0v24.6M623.6 634.1h25.4M636.3 621.8v24.6M627.4 643.9h25.4M640.1 631.6v24.6M622.9 653.7h25.4M635.6 641.4v24.6M617.8 663.5h25.4M630.5 651.2v24.6M628.9 673.3h25.4M641.6 661.0v24.6M638.0 683.1h25.4M650.7 670.8v24.6M634.7 692.9h25.4M647.4 680.6v24.6M634.8 702.7h25.4M647.5 690.4v24.6M633.4 712.5h25.4M646.1 700.2v24.6M640.3 722.3h25.4M653.0 710.0v24.6M660.7 732.1h25.4M673.4 719.8v24.6M656.9 741.9h25.4M669.6 729.6v24.6M656.9 751.7h25.4M669.6 739.4v24.6M648.5 761.5h25.4M661.2 749.2v24.6M673.5 771.3h25.4M686.2 759.0v24.6M679.4 781.1h25.4M692.1 768.8v24.6M692.2 790.9h25.4M704.9 778.6v24.6M694.5 800.7h25.4M707.2 788.4v24.6M692.2 810.5h25.4M704.9 798.2v24.6M688.7 820.3h25.4M701.4 808.0v24.6M690.8 830.1h25.4M703.5 817.8v24.6M692.7 839.9h25.4M705.4 827.6v24.6M683.9 849.7h25.4M696.6 837.4v24.6M691.3 859.5h25.4M704.0 847.2v24.6M694.3 869.3h25.4M707.0 857.0v24.6M680.6 879.1h25.4M693.3 866.8v24.6M672.5 888.9h25.4M685.2 876.6v24.6M665.7 898.7h25.4M678.4 886.4v24.6M673.7 908.5h25.4M686.4 896.2v24.6M689.2 918.3h25.4M701.9 906.0v24.6M662.2 928.1h25.4M674.9 915.8v24.6M633.3 937.9h25.4M646.0 925.6v24.6M639.4 947.7h25.4M652.1 935.4v24.6M623.0 957.5h25.4M635.7 945.2v24.6M641.7 967.3h25.4M654.4 955.0v24.6M648.0 977.1h25.4M660.7 964.8v24.6M635.1 986.9h25.4M647.8 974.6v24.6M620.9 996.7h25.4M633.6 984.4v24.6M609.2 1006.5h25.4M621.9 994.2v24.6M607.0 1016.3h25.4M619.7 1004.0v24.6M597.7 1026.1h25.4M610.4 1013.8v24.6M599.7 1035.9h25.4M612.4 1023.6v24.6M569.9 1045.7h25.4M582.6 1033.4v24.6M559.9 1055.5h25.4M572.6 1043.2v24.6M560.1 1065.3h25.4M572.8 1053.0v24.6M569.6 1075.1h25.4M582.3 1062.8v24.6M567.5 1084.9h25.4M580.2 1072.6v24.6M566.4 1094.7h25.4M579.1 1082.4v24.6M568.9 1104.5h25.4M581.6 1092.2v24.6M572.8 1114.3h25.4M585.5 1102.0v24.6M572.9 1124.1h25.4M585.6 1111.8v24.6M569.9 1133.9h25.4M582.6 1121.6v24.6M572.5 1143.7h25.4M585.2 1131.4v24.6M571.5 1153.5h25.4M584.2 1141.2v24.6M569.0 1163.3h25.4M581.7 1151.0v24.6M572.5 1173.1h25.4M585.2 1160.8v24.6M563.7 1182.9h25.4M576.4 1170.6v24.6M561.2 1192.7h25.4M573.9 1180.4v24.6M565.4 1202.5h25.4M578.1 1190.2v24.6M560.5 1212.3h25.4M573.2 1200.0v24.6M570.0 1222.1h25.4M582.7 1209.8v24.6M566.9 1231.9h25.4M579.6 1219.6v24.6M563.7 1241.7h25.4M576.4 1229.4v24.6M573.0 1251.5h25.4M585.7 1239.2v24.6M577.1 1261.3h25.4M589.8 1249.0v24.6M573.2 1271.1h25.4M585.9 1258.8v24.6M566.9 1280.9h25.4M579.6 1268.6v24.6M561.0 1290.7h25.4M573.7 1278.4v24.6M565.2 1300.5h25.4M577.9 1288.2v24.6M568.1 1310.3h25.4M580.8 1298.0v24.6M568.8 1320.1h25.4M581.5 1307.8v24.6M566.4 1329.9h25.4M579.1 1317.6v24.6M556.9 1339.7h25.4M569.6 1327.4v24.6M557.6 1349.5h25.4M570.3 1337.2v24.6M563.0 1359.3h25.4M575.7 1347.0v24.6M558.7 1369.1h25.4M571.4 1356.8v24.6M536.4 1378.9h25.4M549.1 1366.6v24.6M534.2 1388.7h25.4M546.9 1376.4v24.6M521.0 1398.5h25.4M533.7 1386.2v24.6M511.9 1408.3h25.4M524.6 1396.0v24.6M496.3 1418.1h25.4M509.0 1405.8v24.6M500.7 1427.9h25.4M513.4 1415.6v24.6M500.3 1437.7h25.4M513.0 1425.4v24.6M503.7 1447.5h25.4M516.4 1435.2v24.6M519.6 1457.3h25.4M532.3 1445.0v24.6M520.5 1467.1h25.4M533.2 1454.8v24.6M521.9 1476.9h25.4M534.6 1464.6v24.6M535.6 1486.7h25.4M548.3 1474.4v24.6M530.5 1496.5h25.4M543.2 1484.2v24.6M539.3 1506.3h25.4M552.0 1494.0v24.6M546.3 1516.1h25.4M559.0 1503.8v24.6M550.8 1525.9h25.4M563.5 1513.6v24.6M566.5 1535.7h25.4M579.2 1523.4v24.6M579.6 1545.5h25.4M592.3 1533.2v24.6M582.8 1555.3h25.4M595.5 1543.0v24.6M590.7 1565.1h25.4M603.4 1552.8v24.6M590.1 1574.9h25.4M602.8 1562.6v24.6M596.1 1584.7h25.4M608.8 1572.4v24.6M602.8 1594.5h25.4M615.5 1582.2v24.6M611.6 1604.3h25.4M624.3 1592.0v24.6M610.5 1614.1h25.4M623.2 1601.8v24.6M618.0 1623.9h25.4M630.7 1611.6v24.6M615.6 1633.7h25.4M628.3 1621.4v24.6M612.8 1643.5h25.4M625.5 1631.2v24.6M613.9 1653.3h25.4M626.6 1641.0v24.6M629.1 1663.1h25.4M641.8 1650.8v24.6M629.1 1672.9h25.4M641.8 1660.6v24.6M634.7 1682.7h25.4M647.4 1670.4v24.6M634.8 1692.5h25.4M647.5 1680.2v24.6" stroke="#000000" stroke-width="6" fill="none" shape-rendering="crispEdges"/>
<path d="M666.8 536.1h25.4M679.5 523.8v24.6M652.7 545.9h25.4M665.4 533.6v24.6M647.0 555.7h25.4M659.7 543.4v24.6M665.8 565.5h25.4M678.5 553.2v24.6M681.7 575.3h25.4M694.4 563.0v24.6M689.7 585.1h25.4M702.4 572.8v24.6M696.2 594.9h25.4M708.9 582.6v24.6M706.0 604.7h25.4M718.7 592.4v24.6M706.2 614.5h25.4M718.9 602.2v24.6M706.7 624.3h25.4M719.4 612.0v24.6M705.9 634.1h25.4M718.6 621.8v24.6M697.8 643.9h25.4M710.5 631.6v24.6M695.0 653.7h25.4M707.7 641.4v24.6M703.9 663.5h25.4M716.6 651.2v24.6M705.8 673.3h25.4M718.5 661.0v24.6M700.8 683.1h25.4M713.5 670.8v24.6M696.8 692.9h25.4M709.5 680.6v24.6M704.5 702.7h25.4M717.2 690.4v24.6M713.4 712.5h25.4M726.1 700.2v24.6M713.1 722.3h25.4M725.8 710.0v24.6M717.6 732.1h25.4M730.3 719.8v24.6M719.2 741.9h25.4M731.9 729.6v24.6M725.7 751.7h25.4M738.4 739.4v24.6M717.0 761.5h25.4M729.7 749.2v24.6M718.9 771.3h25.4M731.6 759.0v24.6M718.8 781.1h25.4M731.5 768.8v24.6M746.1 790.9h25.4M758.8 778.6v24.6M761.9 800.7h25.4M774.6 788.4v24.6M762.0 810.5h25.4M774.7 798.2v24.6M764.7 820.3h25.4M777.4 808.0v24.6M763.2 830.1h25.4M775.9 817.8v24.6M763.4 839.9h25.4M776.1 827.6v24.6M755.5 849.7h25.4M768.2 837.4v24.6M742.0 859.5h25.4M754.7 847.2v24.6M726.0 869.3h25.4M738.7 857.0v24.6M702.3 879.1h25.4M715.0 866.8v24.6M708.9 888.9h25.4M721.6 876.6v24.6M714.2 898.7h25.4M726.9 886.4v24.6M715.0 908.5h25.4M727.7 896.2v24.6M721.3 918.3h25.4M734.0 906.0v24.6M727.4 928.1h25.4M740.1 915.8v24.6M730.2 937.9h25.4M742.9 925.6v24.6M721.3 947.7h25.4M734.0 935.4v24.6M714.5 957.5h25.4M727.2 945.2v24.6M709.3 967.3h25.4M722.0 955.0v24.6M695.9 977.1h25.4M708.6 964.8v24.6M689.1 986.9h25.4M701.8 974.6v24.6M694.4 996.7h25.4M707.1 984.4v24.6M687.0 1006.5h25.4M699.7 994.2v24.6M669.7 1016.3h25.4M682.4 1004.0v24.6M663.3 1026.1h25.4M676.0 1013.8v24.6M656.9 1035.9h25.4M669.6 1023.6v24.6M644.9 1045.7h25.4M657.6 1033.4v24.6M627.8 1055.5h25.4M640.5 1043.2v24.6M611.2 1065.3h25.4M623.9 1053.0v24.6M601.3 1075.1h25.4M614.0 1062.8v24.6M596.3 1084.9h25.4M609.0 1072.6v24.6M591.6 1094.7h25.4M604.3 1082.4v24.6M590.2 1104.5h25.4M602.9 1092.2v24.6M586.3 1114.3h25.4M599.0 1102.0v24.6M582.5 1124.1h25.4M595.2 1111.8v24.6M581.2 1133.9h25.4M593.9 1121.6v24.6M573.5 1143.7h25.4M586.2 1131.4v24.6M572.3 1153.5h25.4M585.0 1141.2v24.6M570.4 1163.3h25.4M583.1 1151.0v24.6M579.2 1173.1h25.4M591.9 1160.8v24.6M580.7 1182.9h25.4M593.4 1170.6v24.6M572.2 1192.7h25.4M584.9 1180.4v24.6M570.6 1202.5h25.4M583.3 1190.2v24.6M568.0 1212.3h25.4M580.7 1200.0v24.6M553.9 1222.1h25.4M566.6 1209.8v24.6M541.2 1231.9h25.4M553.9 1219.6v24.6M529.0 1241.7h25.4M541.7 1229.4v24.6M518.6 1251.5h25.4M531.3 1239.2v24.6M519.0 1261.3h25.4M531.7 1249.0v24.6M519.2 1271.1h25.4M531.9 1258.8v24.6M525.8 1280.9h25.4M538.5 1268.6v24.6M532.4 1290.7h25.4M545.1 1278.4v24.6M535.1 1300.5h25.4M547.8 1288.2v24.6M532.8 1310.3h25.4M545.5 1298.0v24.6M526.6 1320.1h25.4M539.3 1307.8v24.6M530.3 1329.9h25.4M543.0 1317.6v24.6M532.3 1339.7h25.4M545.0 1327.4v24.6M528.8 1349.5h25.4M541.5 1337.2v24.6M535.9 1359.3h25.4M548.6 1347.0v24.6M544.2 1369.1h25.4M556.9 1356.8v24.6M549.7 1378.9h25.4M562.4 1366.6v24.6M553.8 1388.7h25.4M566.5 1376.4v24.6M549.0 1398.5h25.4M561.7 1386.2v24.6M548.5 1408.3h25.4M561.2 1396.0v24.6M544.3 1418.1h25.4M557.0 1405.8v24.6M536.9 1427.9h25.4M549.6 1415.6v24.6M530.4 1437.7h25.4M543.1 1425.4v24.6M530.0 1447.5h25.4M542.7 1435.2v24.6M529.3 1457.3h25.4M542.0 1445.0v24.6M534.0 1467.1h25.4M546.7 1454.8v24.6M531.6 1476.9h25.4M544.3 1464.6v24.6M540.4 1486.7h25.4M553.1 1474.4v24.6M551.6 1496.5h25.4M564.3 1484.2v24.6M555.3 1506.3h25.4M568.0 1494.0v24.6M561.5 1516.1h25.4M574.2 1503.8v24.6M572.4 1525.9h25.4M585.1 1513.6v24.6M570.9 1535.7h25.4M583.6 1523.4v24.6M572.2 1545.5h25.4M584.9 1533.2v24.6M571.6 1555.3h25.4M584.3 1543.0v24.6M573.8 1565.1h25.4M586.5 1552.8v24.6M580.4 1574.9h25.4M593.1 1562.6v24.6M567.1 1584.7h25.4M579.8 1572.4v24.6M551.5 1594.5h25.4M564.2 1582.2v24.6M555.1 1604.3h25.4M567.8 1592.0v24.6M553.8 1614.1h25.4M566.5 1601.8v24.6M560.5 1623.9h25.4M573.2 1611.6v24.6M558.3 1633.7h25.4M571.0 1621.4v24.6M561.1 1643.5h25.4M573.8 1631.2v24.6M566.1 1653.3h25.4M578.8 1641.0v24.6M568.1 1663.1h25.4M580.8 1650.8v24.6M575.4 1672.9h25.4M588.1 1660.6v24.6M580.5 1682.7h25.4M593.2 1670.4v24.6M583.4 1692.5h25.4M596.1 1680.2v24.6" stroke="#A2142F" stroke-width="6" fill="none" shape-rendering="crispEdges"/>
<path d="M772.6 536.1h25.4M785.3 523.8v24.6M780.2 545.9h25.4M792.9 533.6v24.6M776.6 555.7h25.4M789.3 543.4v24.6M790.1 565.5h25.4M802.8 553.2v24.6M793.4 575.3h25.4M806.1 563.0v24.6M795.0 585.1h25.4M807.7 572.8v24.6M799.8 594.9h25.4M812.5 582.6v24.6M809.4 604.7h25.4M822.1 592.4v24.6M800.3 614.5h25.4M813.0 602.2v24.6M807.9 624.3h25.4M820.6 612.0v24.6M808.3 634.1h25.4M821.0 621.8v24.6M807.7 643.9h25.4M820.4 631.6v24.6M805.6 653.7h25.4M818.3 641.4v24.6M802.2 663.5h25.4M814.9 651.2v24.6M797.6 673.3h25.4M810.3 661.0v24.6M796.1 683.1h25.4M808.8 670.8v24.6M796.1 692.9h25.4M808.8 680.6v24.6M794.6 702.7h25.4M807.3 690.4v24.6M794.1 712.5h25.4M806.8 700.2v24.6M783.7 722.3h25.4M796.4 710.0v24.6M784.6 732.1h25.4M797.3 719.8v24.6M778.5 741.9h25.4M791.2 729.6v24.6M776.2 751.7h25.4M788.9 739.4v24.6M775.9 761.5h25.4M788.6 749.2v24.6M774.6 771.3h25.4M787.3 759.0v24.6M768.6 781.1h25.4M781.3 768.8v24.6M756.1 790.9h25.4M768.8 778.6v24.6M742.1 800.7h25.4M754.8 788.4v24.6M718.8 810.5h25.4M731.5 798.2v24.6M712.0 820.3h25.4M724.7 808.0v24.6M701.8 830.1h25.4M714.5 817.8v24.6M687.9 839.9h25.4M700.6 827.6v24.6M674.9 849.7h25.4M687.6 837.4v24.6M667.1 859.5h25.4M679.8 847.2v24.6M670.3 869.3h25.4M683.0 857.0v24.6M655.4 879.1h25.4M668.1 866.8v24.6M644.7 888.9h25.4M657.4 876.6v24.6M641.9 898.7h25.4M654.6 886.4v24.6M629.2 908.5h25.4M641.9 896.2v24.6M624.6 918.3h25.4M637.3 906.0v24.6M610.8 928.1h25.4M623.5 915.8v24.6M595.7 937.9h25.4M608.4 925.6v24.6M591.3 947.7h25.4M604.0 935.4v24.6M582.5 957.5h25.4M595.2 945.2v24.6M575.1 967.3h25.4M587.8 955.0v24.6M568.8 977.1h25.4M581.5 964.8v24.6M555.8 986.9h25.4M568.5 974.6v24.6M548.8 996.7h25.4M561.5 984.4v24.6M539.9 1006.5h25.4M552.6 994.2v24.6M535.1 1016.3h25.4M547.8 1004.0v24.6M526.9 1026.1h25.4M539.6 1013.8v24.6M528.4 1035.9h25.4M541.1 1023.6v24.6M523.3 1045.7h25.4M536.0 1033.4v24.6M518.1 1055.5h25.4M530.8 1043.2v24.6M513.2 1065.3h25.4M525.9 1053.0v24.6M506.6 1075.1h25.4M519.3 1062.8v24.6M496.5 1084.9h25.4M509.2 1072.6v24.6M492.1 1094.7h25.4M504.8 1082.4v24.6M485.5 1104.5h25.4M498.2 1092.2v24.6M484.6 1114.3h25.4M497.3 1102.0v24.6M481.5 1124.1h25.4M494.2 1111.8v24.6M474.6 1133.9h25.4M487.3 1121.6v24.6M476.6 1143.7h25.4M489.3 1131.4v24.6M474.5 1153.5h25.4M487.2 1141.2v24.6M476.0 1163.3h25.4M488.7 1151.0v24.6M479.0 1173.1h25.4M491.7 1160.8v24.6M485.6 1182.9h25.4M498.3 1170.6v24.6M492.4 1192.7h25.4M505.1 1180.4v24.6M497.6 1202.5h25.4M510.3 1190.2v24.6M504.7 1212.3h25.4M517.4 1200.0v24.6M516.8 1222.1h25.4M529.5 1209.8v24.6M524.0 1231.9h25.4M536.7 1219.6v24.6M537.4 1241.7h25.4M550.1 1229.4v24.6M552.8 1251.5h25.4M565.5 1239.2v24.6M563.5 1261.3h25.4M576.2 1249.0v24.6M570.9 1271.1h25.4M583.6 1258.8v24.6M586.0 1280.9h25.4M598.7 1268.6v24.6M587.2 1290.7h25.4M599.9 1278.4v24.6M592.2 1300.5h25.4M604.9 1288.2v24.6M597.0 1310.3h25.4M609.7 1298.0v24.6M605.0 1320.1h25.4M617.7 1307.8v24.6M609.4 1329.9h25.4M622.1 1317.6v24.6M617.6 1339.7h25.4M630.3 1327.4v24.6M622.6 1349.5h25.4M635.3 1337.2v24.6M626.3 1359.3h25.4M639.0 1347.0v24.6M621.5 1369.1h25.4M634.2 1356.8v24.6M621.7 1378.9h25.4M634.4 1366.6v24.6M623.2 1388.7h25.4M635.9 1376.4v24.6M623.1 1398.5h25.4M635.8 1386.2v24.6M620.5 1408.3h25.4M633.2 1396.0v24.6M621.1 1418.1h25.4M633.8 1405.8v24.6M617.1 1427.9h25.4M629.8 1415.6v24.6M613.7 1437.7h25.4M626.4 1425.4v24.6M615.8 1447.5h25.4M628.5 1435.2v24.6M612.2 1457.3h25.4M624.9 1445.0v24.6M618.1 1467.1h25.4M630.8 1454.8v24.6M629.3 1476.9h25.4M642.0 1464.6v24.6M628.8 1486.7h25.4M641.5 1474.4v24.6M627.5 1496.5h25.4M640.2 1484.2v24.6M628.5 1506.3h25.4M641.2 1494.0v24.6M622.7 1516.1h25.4M635.4 1503.8v24.6M623.6 1525.9h25.4M636.3 1513.6v24.6M618.1 1535.7h25.4M630.8 1523.4v24.6M612.3 1545.5h25.4M625.0 1533.2v24.6M612.8 1555.3h25.4M625.5 1543.0v24.6M614.9 1565.1h25.4M627.6 1552.8v24.6M617.5 1574.9h25.4M630.2 1562.6v24.6M622.2 1584.7h25.4M634.9 1572.4v24.6M630.1 1594.5h25.4M642.8 1582.2v24.6M630.4 1604.3h25.4M643.1 1592.0v24.6M633.3 1614.1h25.4M646.0 1601.8v24.6M633.8 1623.9h25.4M646.5 1611.6v24.6M630.6 1633.7h25.4M643.3 1621.4v24.6M632.9 1643.5h25.4M645.6 1631.2v24.6M631.3 1653.3h25.4M644.0 1641.0v24.6M631.9 1663.1h25.4M644.6 1650.8v24.6M636.8 1672.9h25.4M649.5 1660.6v24.6M637.5 1682.7h25.4M650.2 1670.4v24.6M635.9 1692.5h25.4M648.6 1680.2v24.6" stroke="#FF0000" stroke-width="6" fill="none" shape-rendering="crispEdges"/>
<path d="M661.3 536.1h25.4M674.0 523.8v24.6M664.2 545.9h25.4M676.9 533.6v24.6M657.7 555.7h25.4M670.4 543.4v24.6M675.5 565.5h25.4M688.2 553.2v24.6M686.1 575.3h25.4M698.8 563.0v24.6M695.5 585.1h25.4M708.2 572.8v24.6M699.0 594.9h25.4M711.7 582.6v24.6M704.3 604.7h25.4M717.0 592.4v24.6M716.7 614.5h25.4M729.4 602.2v24.6M729.2 624.3h25.4M741.9 612.0v24.6M727.2 634.1h25.4M739.9 621.8v24.6M732.9 643.9h25.4M745.6 631.6v24.6M734.6 653.7h25.4M747.3 641.4v24.6M734.9 663.5h25.4M747.6 651.2v24.6M735.6 673.3h25.4M748.3 661.0v24.6M737.7 683.1h25.4M750.4 670.8v24.6M740.0 692.9h25.4M752.7 680.6v24.6M741.7 702.7h25.4M754.4 690.4v24.6M746.9 712.5h25.4M759.6 700.2v24.6M758.0 722.3h25.4M770.7 710.0v24.6M749.5 732.1h25.4M762.2 719.8v24.6M750.3 741.9h25.4M763.0 729.6v24.6M749.8 751.7h25.4M762.5 739.4v24.6M748.0 761.5h25.4M760.7 749.2v24.6M762.0 771.3h25.4M774.7 759.0v24.6M758.6 781.1h25.4M771.3 768.8v24.6M749.1 790.9h25.4M761.8 778.6v24.6M746.9 800.7h25.4M759.6 788.4v24.6M742.6 810.5h25.4M755.3 798.2v24.6M744.7 820.3h25.4M757.4 808.0v24.6M738.8 830.1h25.4M751.5 817.8v24.6M728.7 839.9h25.4M741.4 827.6v24.6M720.7 849.7h25.4M733.4 837.4v24.6M717.0 859.5h25.4M729.7 847.2v24.6M714.6 869.3h25.4M727.3 857.0v24.6M714.6 879.1h25.4M727.3 866.8v24.6M716.5 888.9h25.4M729.2 876.6v24.6M717.0 898.7h25.4M729.7 886.4v24.6M722.2 908.5h25.4M734.9 896.2v24.6M716.1 918.3h25.4M728.8 906.0v24.6M710.5 928.1h25.4M723.2 915.8v24.6M703.2 937.9h25.4M715.9 925.6v24.6M695.4 947.7h25.4M708.1 935.4v24.6M685.9 957.5h25.4M698.6 945.2v24.6M681.1 967.3h25.4M693.8 955.0v24.6M674.3 977.1h25.4M687.0 964.8v24.6M660.8 986.9h25.4M673.5 974.6v24.6M645.2 996.7h25.4M657.9 984.4v24.6M632.0 1006.5h25.4M644.7 994.2v24.6M620.8 1016.3h25.4M633.5 1004.0v24.6M608.4 1026.1h25.4M621.1 1013.8v24.6M594.3 1035.9h25.4M607.0 1023.6v24.6M587.9 1045.7h25.4M600.6 1033.4v24.6M579.5 1055.5h25.4M592.2 1043.2v24.6M567.7 1065.3h25.4M580.4 1053.0v24.6M560.7 1075.1h25.4M573.4 1062.8v24.6M557.9 1084.9h25.4M570.6 1072.6v24.6M550.9 1094.7h25.4M563.6 1082.4v24.6M545.0 1104.5h25.4M557.7 1092.2v24.6M544.8 1114.3h25.4M557.5 1102.0v24.6M553.1 1124.1h25.4M565.8 1111.8v24.6M559.1 1133.9h25.4M571.8 1121.6v24.6M558.7 1143.7h25.4M571.4 1131.4v24.6M549.7 1153.5h25.4M562.4 1141.2v24.6M538.3 1163.3h25.4M551.0 1151.0v24.6M533.3 1173.1h25.4M546.0 1160.8v24.6M535.0 1182.9h25.4M547.7 1170.6v24.6M532.9 1192.7h25.4M545.6 1180.4v24.6M537.3 1202.5h25.4M550.0 1190.2v24.6M539.9 1212.3h25.4M552.6 1200.0v24.6M541.6 1222.1h25.4M554.3 1209.8v24.6M542.9 1231.9h25.4M555.6 1219.6v24.6M553.0 1241.7h25.4M565.7 1229.4v24.6M556.8 1251.5h25.4M569.5 1239.2v24.6M563.0 1261.3h25.4M575.7 1249.0v24.6M575.0 1271.1h25.4M587.7 1258.8v24.6M572.3 1280.9h25.4M585.0 1268.6v24.6M574.0 1290.7h25.4M586.7 1278.4v24.6M578.0 1300.5h25.4M590.7 1288.2v24.6M584.4 1310.3h25.4M597.1 1298.0v24.6M588.4 1320.1h25.4M601.1 1307.8v24.6M588.5 1329.9h25.4M601.2 1317.6v24.6M597.9 1339.7h25.4M610.6 1327.4v24.6M598.2 1349.5h25.4M610.9 1337.2v24.6M599.9 1359.3h25.4M612.6 1347.0v24.6M604.4 1369.1h25.4M617.1 1356.8v24.6M601.3 1378.9h25.4M614.0 1366.6v24.6M604.1 1388.7h25.4M616.8 1376.4v24.6M602.6 1398.5h25.4M615.3 1386.2v24.6M605.7 1408.3h25.4M618.4 1396.0v24.6M607.4 1418.1h25.4M620.1 1405.8v24.6M603.5 1427.9h25.4M616.2 1415.6v24.6M607.3 1437.7h25.4M620.0 1425.4v24.6M604.6 1447.5h25.4M617.3 1435.2v24.6M605.1 1457.3h25.4M617.8 1445.0v24.6M604.0 1467.1h25.4M616.7 1454.8v24.6M601.0 1476.9h25.4M613.7 1464.6v24.6M600.8 1486.7h25.4M613.5 1474.4v24.6M598.9 1496.5h25.4M611.6 1484.2v24.6M597.4 1506.3h25.4M610.1 1494.0v24.6M594.9 1516.1h25.4M607.6 1503.8v24.6M592.1 1525.9h25.4M604.8 1513.6v24.6M605.1 1535.7h25.4M617.8 1523.4v24.6M611.8 1545.5h25.4M624.5 1533.2v24.6M612.5 1555.3h25.4M625.2 1543.0v24.6M615.4 1565.1h25.4M628.1 1552.8v24.6M610.3 1574.9h25.4M623.0 1562.6v24.6M610.4 1584.7h25.4M623.1 1572.4v24.6M608.0 1594.5h25.4M620.7 1582.2v24.6M601.1 1604.3h25.4M613.8 1592.0v24.6M599.6 1614.1h25.4M612.3 1601.8v24.6M602.1 1623.9h25.4M614.8 1611.6v24.6M600.1 1633.7h25.4M612.8 1621.4v24.6M602.7 1643.5h25.4M615.4 1631.2v24.6M596.4 1653.3h25.4M609.1 1641.0v24.6M601.0 1663.1h25.4M613.7 1650.8v24.6M600.0 1672.9h25.4M612.7 1660.6v24.6M603.6 1682.7h25.4M616.3 1670.4v24.6M606.4 1692.5h25.4M619.1 1680.2v24.6" stroke="#EDB120" stroke-width="6" fill="none" shape-rendering="crispEdges"/>
<path d="M571.1 536.1h25.4M583.8 523.8v24.6M585.2 545.9h25.4M597.9 533.6v24.6M586.4 555.7h25.4M599.1 543.4v24.6M587.3 565.5h25.4M600.0 553.2v24.6M586.1 575.3h25.4M598.8 563.0v24.6M594.1 585.1h25.4M606.8 572.8v24.6M605.1 594.9h25.4M617.8 582.6v24.6M608.7 604.7h25.4M621.4 592.4v24.6M614.1 614.5h25.4M626.8 602.2v24.6M619.4 624.3h25.4M632.1 612.0v24.6M622.6 634.1h25.4M635.3 621.8v24.6M630.5 643.9h25.4M643.2 631.6v24.6M634.1 653.7h25.4M646.8 641.4v24.6M643.9 663.5h25.4M656.6 651.2v24.6M646.5 673.3h25.4M659.2 661.0v24.6M657.7 683.1h25.4M670.4 670.8v24.6M665.7 692.9h25.4M678.4 680.6v24.6M673.4 702.7h25.4M686.1 690.4v24.6M671.7 712.5h25.4M684.4 700.2v24.6M685.4 722.3h25.4M698.1 710.0v24.6M684.8 732.1h25.4M697.5 719.8v24.6M697.3 741.9h25.4M710.0 729.6v24.6M706.5 751.7h25.4M719.2 739.4v24.6M722.7 761.5h25.4M735.4 749.2v24.6M739.9 771.3h25.4M752.6 759.0v24.6M746.4 781.1h25.4M759.1 768.8v24.6M732.1 790.9h25.4M744.8 778.6v24.6M737.6 800.7h25.4M750.3 788.4v24.6M752.7 810.5h25.4M765.4 798.2v24.6M749.8 820.3h25.4M762.5 808.0v24.6M737.2 830.1h25.4M749.9 817.8v24.6M749.9 839.9h25.4M762.6 827.6v24.6M756.4 849.7h25.4M769.1 837.4v24.6M752.4 859.5h25.4M765.1 847.2v24.6M743.4 869.3h25.4M756.1 857.0v24.6M751.6 879.1h25.4M764.3 866.8v24.6M739.3 888.9h25.4M752.0 876.6v24.6M742.3 898.7h25.4M755.0 886.4v24.6M745.0 908.5h25.4M757.7 896.2v24.6M745.6 918.3h25.4M758.3 906.0v24.6M746.3 928.1h25.4M759.0 915.8v24.6M750.8 937.9h25.4M763.5 925.6v24.6M745.5 947.7h25.4M758.2 935.4v24.6M738.5 957.5h25.4M751.2 945.2v24.6M733.0 967.3h25.4M745.7 955.0v24.6M729.1 977.1h25.4M741.8 964.8v24.6M709.6 986.9h25.4M722.3 974.6v24.6M691.9 996.7h25.4M704.6 984.4v24.6M664.9 1006.5h25.4M677.6 994.2v24.6M659.8 1016.3h25.4M672.5 1004.0v24.6M638.5 1026.1h25.4M651.2 1013.8v24.6M624.4 1035.9h25.4M637.1 1023.6v24.6M615.8 1045.7h25.4M628.5 1033.4v24.6M611.3 1055.5h25.4M624.0 1043.2v24.6M605.1 1065.3h25.4M617.8 1053.0v24.6M592.6 1075.1h25.4M605.3 1062.8v24.6M579.2 1084.9h25.4M591.9 1072.6v24.6M558.7 1094.7h25.4M571.4 1082.4v24.6M547.3 1104.5h25.4M560.0 1092.2v24.6M536.1 1114.3h25.4M548.8 1102.0v24.6M523.8 1124.1h25.4M536.5 1111.8v24.6M514.7 1133.9h25.4M527.4 1121.6v24.6M504.2 1143.7h25.4M516.9 1131.4v24.6M502.1 1153.5h25.4M514.8 1141.2v24.6M495.8 1163.3h25.4M508.5 1151.0v24.6M493.2 1173.1h25.4M505.9 1160.8v24.6M499.8 1182.9h25.4M512.5 1170.6v24.6M498.5 1192.7h25.4M511.2 1180.4v24.6M499.6 1202.5h25.4M512.3 1190.2v24.6M507.5 1212.3h25.4M520.2 1200.0v24.6M508.9 1222.1h25.4M521.6 1209.8v24.6M513.4 1231.9h25.4M526.1 1219.6v24.6M518.7 1241.7h25.4M531.4 1229.4v24.6M526.9 1251.5h25.4M539.6 1239.2v24.6M531.2 1261.3h25.4M543.9 1249.0v24.6M539.6 1271.1h25.4M552.3 1258.8v24.6M546.9 1280.9h25.4M559.6 1268.6v24.6M548.2 1290.7h25.4M560.9 1278.4v24.6M553.4 1300.5h25.4M566.1 1288.2v24.6M553.4 1310.3h25.4M566.1 1298.0v24.6M551.4 1320.1h25.4M564.1 1307.8v24.6M552.1 1329.9h25.4M564.8 1317.6v24.6M559.5 1339.7h25.4M572.2 1327.4v24.6M565.0 1349.5h25.4M577.7 1337.2v24.6M565.7 1359.3h25.4M578.4 1347.0v24.6M571.0 1369.1h25.4M583.7 1356.8v24.6M570.3 1378.9h25.4M583.0 1366.6v24.6M569.8 1388.7h25.4M582.5 1376.4v24.6M574.3 1398.5h25.4M587.0 1386.2v24.6M578.7 1408.3h25.4M591.4 1396.0v24.6M580.6 1418.1h25.4M593.3 1405.8v24.6M579.3 1427.9h25.4M592.0 1415.6v24.6M577.3 1437.7h25.4M590.0 1425.4v24.6M584.2 1447.5h25.4M596.9 1435.2v24.6M585.5 1457.3h25.4M598.2 1445.0v24.6M589.7 1467.1h25.4M602.4 1454.8v24.6M588.1 1476.9h25.4M600.8 1464.6v24.6M589.2 1486.7h25.4M601.9 1474.4v24.6M594.0 1496.5h25.4M606.7 1484.2v24.6M594.1 1506.3h25.4M606.8 1494.0v24.6M601.8 1516.1h25.4M614.5 1503.8v24.6M599.6 1525.9h25.4M612.3 1513.6v24.6M606.6 1535.7h25.4M619.3 1523.4v24.6M604.3 1545.5h25.4M617.0 1533.2v24.6M608.0 1555.3h25.4M620.7 1543.0v24.6M611.1 1565.1h25.4M623.8 1552.8v24.6M605.5 1574.9h25.4M618.2 1562.6v24.6M607.1 1584.7h25.4M619.8 1572.4v24.6M610.0 1594.5h25.4M622.7 1582.2v24.6M603.0 1604.3h25.4M615.7 1592.0v24.6M605.1 1614.1h25.4M617.8 1601.8v24.6M603.2 1623.9h25.4M615.9 1611.6v24.6M607.8 1633.7h25.4M620.5 1621.4v24.6M605.7 1643.5h25.4M618.4 1631.2v24.6M605.7 1653.3h25.4M618.4 1641.0v24.6M608.6 1663.1h25.4M621.3 1650.8v24.6M609.5 1672.9h25.4M622.2 1660.6v24.6M610.3 1682.7h25.4M623.0 1670.4v24.6M615.3 1692.5h25.4M628.0 1680.2v24.6" stroke="#FFFF00" stroke-width="6" fill="none" shape-rendering="crispEdges"/>
<path d="M281.8 1181.8 L285.9 1181.8 L289.9 1181.7 L294.0 1181.6 L298.1 1181.6 L302.1 1181.5 L306.2 1181.4 L310.3 1181.3 L314.3 1181.3 L318.4 1181.2 L322.5 1181.1 L326.5 1181.0 L330.6 1180.9 L334.7 1180.8 L338.7 1180.7 L342.8 1180.6 L346.9 1180.5 L350.9 1180.4 L355.0 1180.3 L359.1 1180.2 L363.1 1180.0 L367.2 1179.9 L371.3 1179.8 L375.3 1179.6 L379.4 1179.5 L383.5 1179.3 L387.5 1179.2 L391.6 1179.0 L395.7 1178.8 L399.7 1178.7 L403.8 1178.5 L407.8 1178.3 L411.9 1178.1 L416.0 1177.9 L420.0 1177.7 L424.1 1177.4 L428.2 1177.2 L432.2 1177.0 L436.3 1176.7 L440.4 1176.5 L444.4 1176.2 L448.5 1175.9 L452.6 1175.6 L456.6 1175.3 L460.7 1175.0 L464.8 1174.7 L468.8 1174.3 L472.9 1174.0 L477.0 1173.6 L481.0 1173.2 L485.1 1172.8 L489.2 1172.4 L493.2 1172.0 L497.3 1171.6 L501.4 1171.1 L505.4 1170.6 L509.5 1170.1 L513.6 1169.6 L517.6 1169.1 L521.7 1168.5 L525.8 1167.9 L529.8 1167.3 L533.9 1166.7 L538.0 1166.0 L542.0 1165.4 L546.1 1164.7 L550.2 1163.9 L554.2 1163.2 L558.3 1162.4 L562.4 1161.5 L566.4 1160.7 L570.5 1159.8 L574.6 1158.9 L578.6 1157.9 L582.7 1156.9 L586.8 1155.9 L590.8 1154.8 L594.9 1153.7 L599.0 1152.5 L603.0 1151.3 L607.1 1150.1 L611.2 1148.8 L615.2 1147.4 L619.3 1146.0 L623.4 1144.6 L627.4 1143.1 L631.5 1141.5 L635.6 1139.8 L639.6 1138.1 L643.7 1136.4 L647.8 1134.5 L651.8 1132.6 L655.9 1130.6 L659.9 1128.6 L664.0 1126.4 L668.1 1124.2 L672.1 1121.9 L676.2 1119.5 L680.3 1117.0 L684.3 1114.4 L688.4 1111.7 L692.5 1108.9 L696.5 1106.0 L700.6 1102.9 L704.7 1099.8 L708.7 1096.5 L712.8 1093.1 L716.9 1089.6 L720.9 1085.9 L725.0 1082.1 L729.1 1078.2 L733.1 1074.0 L737.2 1069.8 L741.3 1065.3 L745.3 1060.7 L749.4 1055.9 L753.5 1050.9 L757.5 1045.7 L761.6 1040.3 L765.7 1034.7 L769.7 1028.9 L773.8 1022.9 L777.9 1016.6 L781.9 1010.1 L786.0 1003.3 L790.1 996.3 L794.1 988.9 L798.2 981.3 L802.3 973.4 L806.3 965.2 L810.4 956.7 L814.5 947.8 L818.5 938.6 L822.6 929.0 L826.7 919.1 L830.7 908.7 L834.8 898.0 L838.9 886.8 L842.9 875.2 L847.0 863.2 L851.1 850.7 L855.1 837.6 L859.2 824.1 L863.3 810.1 L867.3 795.5 L871.4 780.3 L875.5 764.5 L879.5 748.1 L883.6 731.1 L887.7 713.4 L891.7 695.0 L895.8 675.9 L899.8 656.1 L903.9 635.4 L908.0 614.0 L912.0 591.7 L916.1 568.6 L920.2 544.5 L924.2 519.5 L928.3 493.6 L930.9 476.7" stroke="#000" stroke-width="8.2" fill="none" stroke-linejoin="round"/>
<g fill="#000">
<g transform="translate(110 0) rotate(-90)">
<text transform="matrix(1.1034 0 0 1.0778 -826.00 -0.65)" font-size="100px" font-style="italic" stroke="#000" stroke-width="1.38" stroke-linejoin="round">l</text>
<text transform="matrix(1.0200 0 0 1.5845 -867.66 22.97)" font-size="100px" font-style="italic" stroke="#000" stroke-width="1.18" stroke-linejoin="round">/</text>
<text transform="matrix(1.1835 0 0 1.0436 -926.15 -0.65)" font-size="100px" font-style="italic" stroke="#000" stroke-width="1.35" stroke-linejoin="round">z</text>
</g>
<text transform="matrix(1.1724 0 0 1.0793 516.44 1923.45)" font-size="100px" font-style="italic" stroke="#000" stroke-width="1.33" stroke-linejoin="round">l</text>
<text transform="matrix(0.7350 0 0 0.7451 548.63 1938.65)" font-size="100px" stroke="#000" stroke-width="1.35" stroke-linejoin="round">eff</text>
<text transform="matrix(1.0150 0 0 1.5949 646.52 1947.66)" font-size="100px" font-style="italic" stroke="#000" stroke-width="1.18" stroke-linejoin="round">/</text>
<text transform="matrix(0.8915 0 0 1.0682 690.35 1922.88)" font-size="100px" font-style="italic" stroke="#000" stroke-width="1.54" stroke-linejoin="round">b</text>
<text transform="matrix(0.7372 0 0 0.7186 734.82 1938.43)" font-size="100px" font-style="italic" stroke="#000" stroke-width="2.06" stroke-linejoin="round">v</text>
<text transform="matrix(0.8062 0 0 0.7124 659.67 1190.25)" font-size="100px" font-style="italic" stroke="#000" stroke-width="1.98" stroke-linejoin="round">κ</text>
<path d="M631 1221h98" stroke="#000" stroke-width="4"/>
<text transform="matrix(0.8403 0 0 0.7943 630.84 1319.14)" font-size="100px" font-style="italic" stroke="#000" stroke-width="1.84" stroke-linejoin="round">C</text>
<text transform="matrix(0.3656 0 0 0.3690 698.15 1255.93)" font-size="100px" stroke="#000" stroke-width="2.72" stroke-linejoin="round">3</text>
<path d="M698 1262.5h18.8" stroke="#000" stroke-width="3"/>
<text transform="matrix(0.3556 0 0 0.3678 697.79 1293.70)" font-size="100px" stroke="#000" stroke-width="2.77" stroke-linejoin="round">4</text>
<text transform="matrix(0.5723 0 0 0.4755 685.31 1327.77)" font-size="100px" font-style="italic" stroke="#000" stroke-width="2.88" stroke-linejoin="round">μ</text>
<text transform="matrix(0.7121 0 0 0.8280 741.57 1241.26)" font-size="100px" stroke="#000" stroke-width="1.30" stroke-linejoin="round">(</text>
<text transform="matrix(0.7752 0 0 0.7190 771.10 1240.35)" font-size="100px" font-style="italic" stroke="#000" stroke-width="2.01" stroke-linejoin="round">z</text>
<text transform="matrix(1.0043 0 0 1.0200 820.28 1254.21)" font-size="100px" stroke="#000" stroke-width="0.00" stroke-linejoin="round">−</text>
<text transform="matrix(0.7734 0 0 0.7522 892.95 1240.35)" font-size="100px" font-style="italic" stroke="#000" stroke-width="1.97" stroke-linejoin="round">l</text>
<text transform="matrix(0.7082 0 0 0.8280 917.83 1241.26)" font-size="100px" stroke="#000" stroke-width="1.31" stroke-linejoin="round">)</text>
</g>
</svg></body></html>
